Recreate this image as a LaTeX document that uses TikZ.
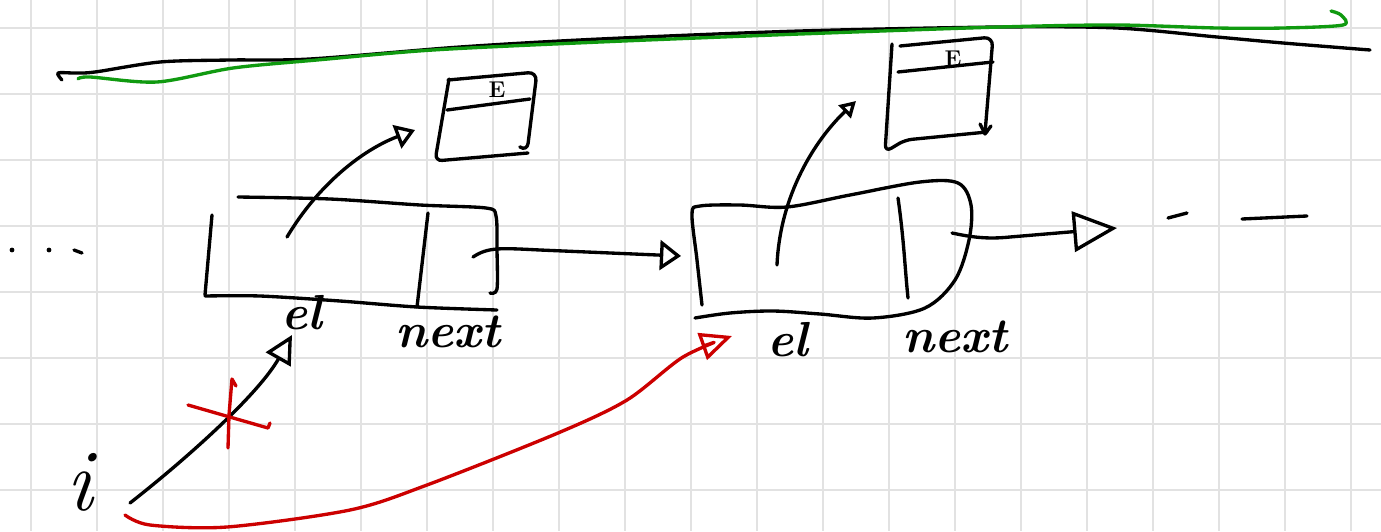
\documentclass[tikz,border=0pt]{standalone}
\usepackage{tikz}
\usetikzlibrary{arrows.meta}
\definecolor{inkred}{HTML}{CC0000}
\definecolor{inkgreen}{HTML}{109A10}
\definecolor{gridgrey}{HTML}{E2E2E2}
\tikzset{
  ink/.style={line width=1.9pt, line cap=round, line join=round},
  redink/.style={ink, draw=inkred},
  greenink/.style={ink, draw=inkgreen},
  hd/.style n args={2}{-{Triangle[open,length=#1,width=#2]}},
  lbl/.style={inner sep=0pt, font=\bfseries\itshape\fontsize{28}{28}\selectfont},
  tinylbl/.style={inner sep=0pt, font=\bfseries\fontsize{13}{13}\selectfont},
  sheet/.style={draw=gridgrey, line width=1pt},
}

\begin{document}
\begin{tikzpicture}[x=0.02cm, y=-0.02cm]

  \fill[white] (0,0) rectangle (1381,531);
  \useasboundingbox (0,0) rectangle (1381,531);

  % Grid
  \foreach \gx in {31,97,...,1381} \draw[sheet] (\gx,0) -- (\gx,531);
  \foreach \gy in {28,94,...,531} \draw[sheet] (0,\gy) -- (1381,\gy);

  % Top strokes
  \draw[ink] plot[smooth] coordinates {(62,80) (58,73) (75,73) (95,72) (160,62)
    (230,60) (310,59) (460,47) (600,39) (800,31) (1000,27) (1117,28) (1217,37)
    (1283,43) (1370,50)};
  \draw[greenink] plot[smooth] coordinates {(78,79) (90,77) (157,82) (233,68)
    (317,60) (433,50) (600,42) (800,34) (1000,27) (1117,25) (1217,28) (1283,28)
    (1343,25) (1341,15) (1331,11)};

  % Cells
  \draw[ink] (212,215) -- (205,295);
  \draw[ink] plot[smooth] coordinates {(205,296) (260,296) (340,301) (417,307) (497,310)};
  \draw[ink] plot[smooth, tension=0.5] coordinates {(238,197) (330,199) (420,205)
    (486,208) (496,216) (497,250) (497,289) (490,293)};
  \draw[ink] (428,213) -- (417,307);

  \draw[ink] plot[smooth, tension=0.55] coordinates {(702,305) (697,260) (692,214)
    (700,206) (740,205) (787,207) (850,195) (920,182) (958,183) (971,205)
    (969,240) (955,280) (925,308) (873,318) (820,314) (773,311) (730,313) (695,318)};
  \draw[ink] (898,198) .. controls (904,240) and (905,270) .. (908,298);

  % Element boxes
  \draw[ink, rounded corners=5pt] (448,80) -- (537,72) -- (527,152) -- (520,147);
  \draw[ink, rounded corners=4pt] (449,79) -- (435,161) -- (528,153);
  \draw[ink] (447,110) -- (530,99);

  \draw[ink, rounded corners=5pt] (900,46) -- (993,37) -- (985,133);
  \draw[ink] (980,124) -- (985,134) -- (991,126);
  \draw[ink, rounded corners=4pt] (892,44) -- (885,152) -- (905,140) -- (987,132);
  \draw[ink] (898,72) -- (993,62);

  % Nodes
  \node[lbl] (el1) at (302,313) {el};
  \node[lbl] (nx1) at (448,332) {next};
  \node[lbl] (el2) at (788,340) {el};
  \node[lbl] (nx2) at (955,337) {next};
  \node[lbl, font=\itshape\fontsize{50}{50}\selectfont] (ivar) at (80,482) {i};
  \node[tinylbl] (E1) at (497,90) {E};
  \node[tinylbl] (E2) at (953,59) {E};

  \coordinate (c1el) at (287,237);
  \coordinate (c1nx) at (473,257);
  \coordinate (c2in) at (681,256);
  \coordinate (c2el) at (777,265);
  \coordinate (c2nx) at (952,233);
  \coordinate (tail) at (1117,228);
  \coordinate (e1in) at (415,130);
  \coordinate (e2in) at (856,101);
  \coordinate (iA) at (130,503);
  \coordinate (iB) at (125,515);
  \coordinate (c1elin) at (292,335);
  \coordinate (c2elin) at (732,336);

  % Edges
  \draw[ink, hd={11pt}{14pt}] (c1el) .. controls (318,185) and (362,150) .. (e1in);
  \draw[ink, hd={9pt}{10pt}] (c2el) .. controls (780,195) and (815,140) .. (e2in);
  \draw[ink, hd={12pt}{17pt}] (c1nx) .. controls (488,247) and (500,248) .. (540,250) -- (c2in);
  \draw[ink, hd={25pt}{23pt}] (c2nx) .. controls (975,238) and (990,239) .. (1010,237) -- (tail);
  \draw[ink, hd={16pt}{16pt}] (iA) .. controls (185,460) and (258,395) .. (c1elin);
  \draw[redink, hd={18pt}{16pt}] plot[smooth] coordinates {(iB) (150,525) (227,527)
    (350,510) (427,485) (558,433) (627,400) (683,357) (c2elin)};

  % Marks
  \draw[redink] (188,405) -- (268,428) -- (270,423);
  \draw[redink] (236,386) -- (232,379) -- (229,415) -- (228,448);
  \foreach \dx in {12,49} \fill (\dx,250) circle (2.4);
  \draw[ink] (74,250) -- (82,253);
  \draw[ink] (1168,218) -- (1187,213);
  \draw[ink] (1242,219) -- (1307,216);

\end{tikzpicture}
\end{document}
